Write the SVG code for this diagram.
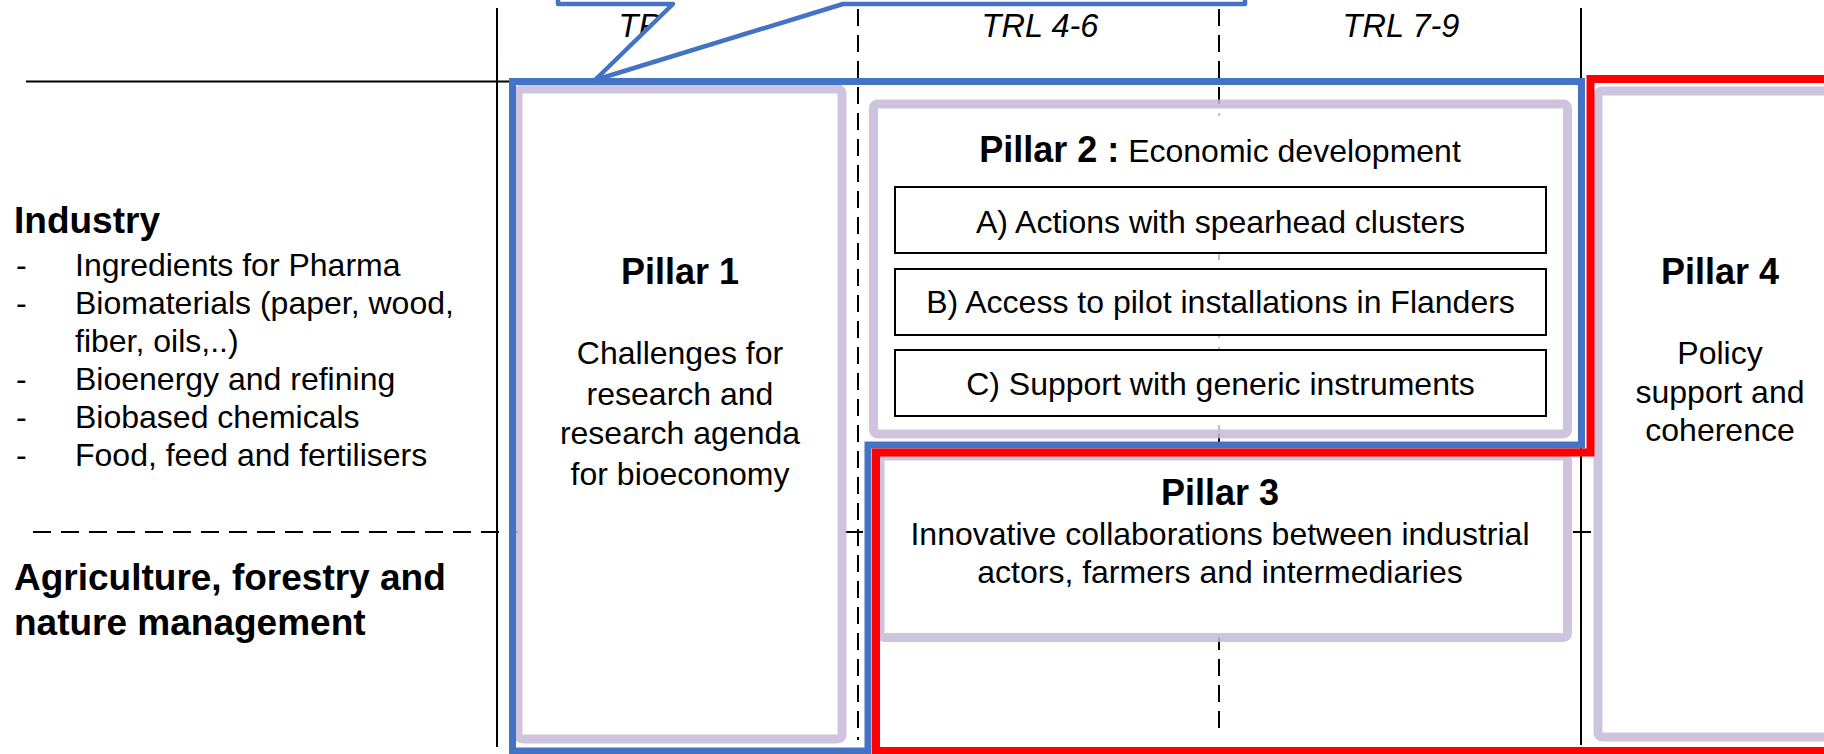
<svg xmlns="http://www.w3.org/2000/svg" width="1824" height="754" viewBox="0 0 1824 754">
<defs>
<style>
.t{font-family:"Liberation Sans",Arial,sans-serif;font-size:32px;fill:#000}
.b{font-family:"Liberation Sans",Arial,sans-serif;font-weight:bold;font-size:37px;fill:#000}
.pt{font-family:"Liberation Sans",Arial,sans-serif;font-weight:bold;font-size:36px;fill:#000}
.trl{font-family:"Liberation Sans",Arial,sans-serif;font-style:italic;font-size:32.5px;fill:#000}
.solid{stroke:#000;stroke-width:2;fill:none}
.dash{stroke:#000;stroke-width:2;fill:none;stroke-dasharray:17 9}
.lav{stroke:#C6BAD7;stroke-opacity:0.85;stroke-width:9;fill:#fff}
.sub{stroke:#000;stroke-width:2;fill:#fff}
</style>
</defs>
<rect width="1824" height="754" fill="#fff"/>
<g id="grid">
<line class="solid" x1="26" y1="81.5" x2="512" y2="81.5"/>
<line class="solid" x1="497" y1="8" x2="497" y2="747"/>
<line class="solid" x1="1581" y1="8" x2="1581" y2="745"/>
<line class="dash" x1="858" y1="9" x2="858" y2="740"/>
<line class="dash" x1="1219" y1="9" x2="1219" y2="736"/>
<line class="dash" x1="33" y1="532" x2="1824" y2="532" style="stroke-dasharray:18 10"/>
</g>
<g id="trl-labels">
<text class="trl" x="677" y="37" text-anchor="middle">TRL 1-3</text>
<text class="trl" x="1040" y="37" text-anchor="middle">TRL 4-6</text>
<text class="trl" x="1401" y="37" text-anchor="middle">TRL 7-9</text>
</g>
<g id="industry">
<text class="b" x="14" y="233">Industry</text>
<text class="t" x="16" y="276">-</text><text class="t" x="75" y="276">Ingredients for Pharma</text>
<text class="t" x="16" y="314">-</text><text class="t" x="75" y="314">Biomaterials (paper, wood,</text>
<text class="t" x="75" y="352">fiber, oils,..)</text>
<text class="t" x="16" y="390">-</text><text class="t" x="75" y="390">Bioenergy and refining</text>
<text class="t" x="16" y="428">-</text><text class="t" x="75" y="428">Biobased chemicals</text>
<text class="t" x="16" y="466">-</text><text class="t" x="75" y="466">Food, feed and fertilisers</text>
</g>
<g id="agriculture">
<text class="b" x="14" y="590">Agriculture, forestry and</text>
<text class="b" x="14" y="635">nature management</text>
</g>
<g id="pillar1">
<rect class="lav" x="518" y="89" width="324" height="650" rx="4"/>
<text class="pt" x="680" y="284" text-anchor="middle">Pillar 1</text>
<text class="t" x="680" y="364" text-anchor="middle">Challenges for</text>
<text class="t" x="680" y="405" text-anchor="middle">research and</text>
<text class="t" x="680" y="444" text-anchor="middle">research agenda</text>
<text class="t" x="680" y="485" text-anchor="middle">for bioeconomy</text>
</g>
<g id="pillar2">
<rect class="lav" x="873.5" y="104" width="694" height="330" rx="4" style="fill-opacity:0.75"/>
<rect x="880" y="116" width="680" height="66" fill="#fff"/>
<text x="1220" y="162" text-anchor="middle"><tspan class="pt">Pillar 2 :</tspan><tspan class="t"> Economic development</tspan></text>
<g id="pillar2-a">
<rect class="sub" x="895" y="187" width="651" height="66"/>
<text class="t" x="1220.5" y="233" text-anchor="middle">A) Actions with spearhead clusters</text>
</g>
<g id="pillar2-b">
<rect class="sub" x="895" y="269" width="651" height="66"/>
<text class="t" x="1220.5" y="313" text-anchor="middle">B) Access to pilot installations in Flanders</text>
</g>
<g id="pillar2-c">
<rect class="sub" x="895" y="350" width="651" height="66"/>
<text class="t" x="1220.5" y="395" text-anchor="middle">C) Support with generic instruments</text>
</g>
</g>
<g id="pillar3">
<rect class="lav" x="880" y="456" width="687.5" height="181.5" rx="4"/>
<text class="pt" x="1220" y="505" text-anchor="middle">Pillar 3</text>
<text class="t" x="1220" y="545" text-anchor="middle">Innovative collaborations between industrial</text>
<text class="t" x="1220" y="583" text-anchor="middle">actors, farmers and intermediaries</text>
</g>
<g id="pillar4">
<rect class="lav" x="1598" y="91" width="300" height="646" rx="4"/>
<text class="pt" x="1720" y="284" text-anchor="middle">Pillar 4</text>
<text class="t" x="1720" y="364" text-anchor="middle">Policy</text>
<text class="t" x="1720" y="403" text-anchor="middle">support and</text>
<text class="t" x="1720" y="441" text-anchor="middle">coherence</text>
</g>
<g id="groupings">
<path d="M512.5,81.5 H1581.5 V445 H868 V751 H512.5 Z" fill="none" stroke="#4472C4" stroke-width="7"/>
<path d="M1590.5,79 H1890 V751 H876 V452.5 H1590.5 Z" fill="none" stroke="#FF0000" stroke-width="8"/>
</g>
<g id="callout">
<path d="M558,-60 V4 H673 L595,80 L843,4 H1245 V-60 Z" fill="#fff" stroke="#4472C4" stroke-width="4.5" stroke-linejoin="round"/>
</g>
</svg>
